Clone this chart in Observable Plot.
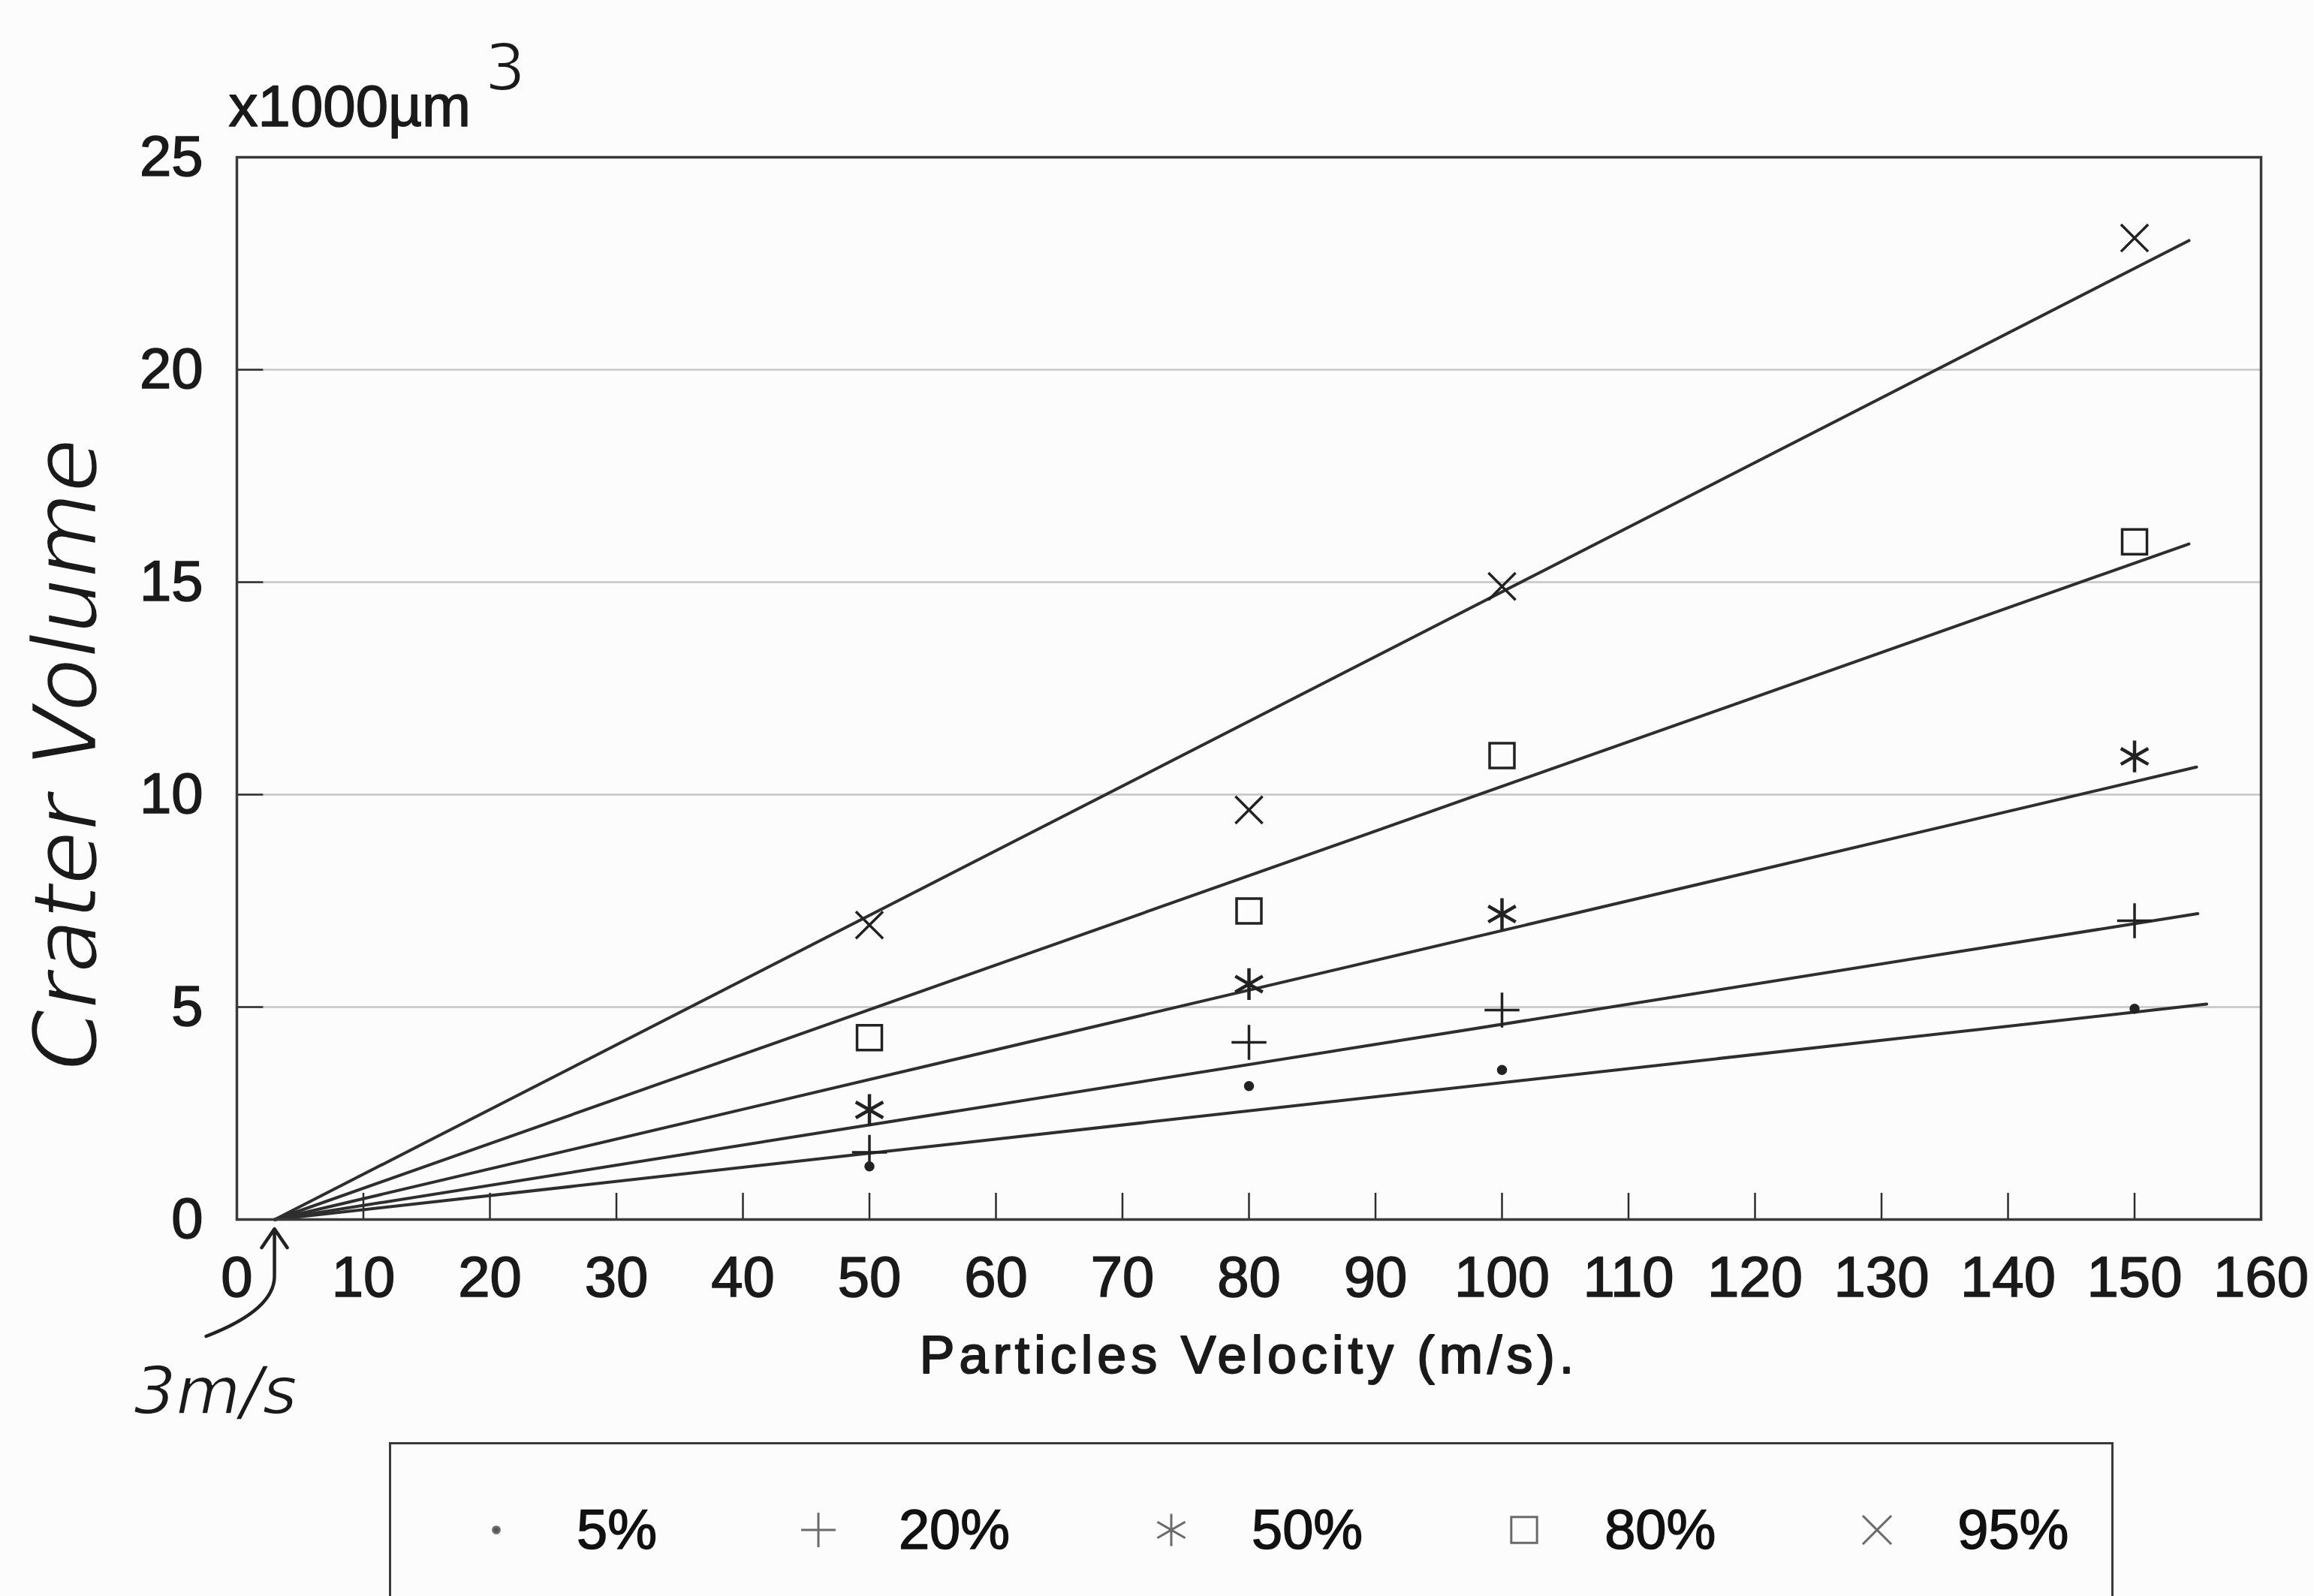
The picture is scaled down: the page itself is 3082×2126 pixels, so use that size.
<!DOCTYPE html>
<html>
<head>
<meta charset="utf-8">
<script src="https://cdn.jsdelivr.net/npm/d3@7"></script>
<script src="https://cdn.jsdelivr.net/npm/@observablehq/plot@0.6"></script>
<style>
  html, body { margin: 0; padding: 0; background: #fcfcfc; }
  #page { position: relative; width: 3082px; height: 2126px; overflow: hidden; background: #fcfcfc; }
  #chart { position: absolute; left: 0; top: 0; }
  #chart g[aria-label="x-axis tick label"] text,
  #chart g[aria-label="y-axis tick label"] text { stroke: #1a1a1a; stroke-width: 1.6px; paint-order: normal; }
  #legend { position: absolute; left: 518px; top: 1921px; width: 2297px; height: 300px;
            border: 3px solid #3a3a3a; box-sizing: border-box; }
  #legend .row { position: absolute; left: 0; top: 114px; transform: translateY(-50%);
                 display: flex; align-items: center; padding-left: 115px; }
  #legend .item { display: flex; align-items: center; margin-right: 190px; }
  #legend svg { width: 50px; height: 50px; overflow: visible; }
  #legend .lab { margin-left: 82px; font-family: "Liberation Sans", Arial, sans-serif;
                 font-size: 74px; color: #111; line-height: 1; -webkit-text-stroke: 1.5px #111; }
</style>
</head>
<body>
<div id="page">
  <div id="chart"></div>
  <div id="legend"><div class="row"></div></div>
</div>
<script>
// ---------------- data ----------------
const velocities = [50, 80, 100, 150];                 // m/s
const seriesNames = ["5%", "20%", "50%", "80%", "95%"];
const volume5  = [1.25, 3.14, 3.52, 4.96];              // x1000 µm³
const volume20 = [1.58, 4.17, 4.93, 7.03];
const volume50 = [2.58, 5.54, 7.19, 10.9];
const volume80 = [4.28, 7.26, 10.92, 15.95];
const volume95 = [6.93, 9.64, 14.9, 23.1];
// fitted straight lines: start at threshold velocity (3 m/s, volume 0)
const thresholdVelocity = 3;
const fitEndVelocity = [155.7, 155.0, 154.9, 154.3, 154.3];
const fitEndVolume   = [5.07, 7.2, 10.65, 15.9, 23.04];
// axes
const xTickValues = [0, 10, 20, 30, 40, 50, 60, 70, 80, 90, 100, 110, 120, 130, 140, 150, 160];
const yTickValues = [0, 5, 10, 15, 20, 25];
const xLabel = "Particles Velocity (m/s).";
const yLabel = "Crater Volume";
const unitLabel = "x1000µm";
const unitExponent = "3";
const thresholdNote = "3m/s";

// ---------------- styles ----------------
const volumes = [volume5, volume20, volume50, volume80, volume95];
const plotSymbols = ["circle", "plus", "asterisk", "square2", "times"];
const plotSymbolR = [5, 15, 20, 21, 16.5];
const legendSymbols = [d3.symbolCircle, d3.symbolPlus, d3.symbolAsterisk, d3.symbolSquare2, d3.symbolTimes];
const legendSizes = [60, 690, 1300, 1500, 950];
const ink = "#1a1a1a";
const lineInk = "#2e2e2e";
const paper = "#fcfcfc";
const printFont = "'Liberation Sans', Arial, sans-serif";
const handFont = "'DejaVu Sans', sans-serif";

const points = seriesNames.flatMap((s, i) =>
  velocities.map((v, j) => ({series: s, velocity: v, volume: volumes[i][j]})));
const fits = seriesNames.flatMap((s, i) => [
  {series: s, velocity: thresholdVelocity, volume: 0},
  {series: s, velocity: fitEndVelocity[i], volume: fitEndVolume[i]}
]);
const gridValues = yTickValues.filter(v => v > 0 && v < 25);
const innerXTicks = xTickValues.filter(v => v > 0 && v < 160);

function arrowMark(index, scales) {
  const sx = scales.x || (scales.scales && scales.scales.x);
  const sy = scales.y || (scales.scales && scales.scales.y);
  const px = sx(thresholdVelocity), py = sy(0);
  const ns = "http://www.w3.org/2000/svg";
  const path = document.createElementNS(ns, "path");
  const tip = py + 13;
  path.setAttribute("d",
    `M${px - 91},${py + 156} Q${px},${py + 121} ${px},${py + 76} L${px},${tip} ` +
    `M${px - 17},${tip + 25} L${px},${tip} L${px + 17},${tip + 25}`);
  path.setAttribute("fill", "none");
  path.setAttribute("stroke", "#222");
  path.setAttribute("stroke-width", "4.5");
  path.setAttribute("stroke-linecap", "round");
  path.setAttribute("stroke-linejoin", "round");
  return path;
}

const chart = Plot.plot({
  width: 3082,
  height: 1890,
  marginTop: 209,
  marginLeft: 315,
  marginRight: 71,
  marginBottom: 266,
  x: {domain: [0, 160]},
  y: {domain: [0, 25]},
  style: {background: "transparent", fontFamily: printFont, color: ink, overflow: "visible"},
  marks: [
    Plot.gridY(gridValues, {stroke: "#c6c6c6", strokeOpacity: 1, strokeWidth: 2.5}),
    Plot.ruleX(innerXTicks, {x: d => d, y1: 0, y2: 0.62, stroke: lineInk, strokeWidth: 2.5}),
    Plot.ruleY(gridValues, {y: d => d, x1: 0, x2: 2.1, stroke: lineInk, strokeWidth: 2.5}),
    Plot.line(fits, {x: "velocity", y: "volume", z: "series", stroke: lineInk, strokeWidth: 4}),
    ...seriesNames.map((s, i) => Plot.dot(points.filter(d => d.series === s), {
      x: "velocity", y: "volume",
      symbol: plotSymbols[i], r: plotSymbolR[i],
      stroke: "#222", strokeWidth: i === 2 ? 4.5 : 3.5,
      fill: i === 0 ? "#222" : "none"
    })),
    Plot.frame({stroke: "#3a3a3a", strokeWidth: 3.5}),
    Plot.axisX(xTickValues, {tickSize: 0, tickPadding: 49, fontSize: 76, label: null, fill: ink,
      tickFormat: d => String(d)}),
    Plot.axisY(yTickValues, {tickSize: 0, tickPadding: 45, fontSize: 76, label: null, fill: ink,
      tickFormat: d => String(d)}),
    Plot.text([xLabel], {text: d => d, frameAnchor: "bottom", dy: 204, lineAnchor: "bottom",
      fontSize: 70, fill: ink, fontFamily: printFont, stroke: ink, strokeWidth: 2, paintOrder: "normal"}),
    Plot.text([unitLabel], {text: d => d, frameAnchor: "top-left", dx: -11, dy: -42,
      lineAnchor: "bottom", textAnchor: "start", fontSize: 78, fill: ink, fontFamily: printFont,
      stroke: ink, strokeWidth: 1.5, paintOrder: "normal"}),
    Plot.text([unitExponent], {text: d => d, frameAnchor: "top-left", dx: 330, dy: -90,
      lineAnchor: "bottom", textAnchor: "start", fontSize: 86, fill: ink, fontFamily: handFont,
      stroke: paper, strokeWidth: 2, paintOrder: "normal"}),
    Plot.text([yLabel], {text: d => d, frameAnchor: "left", dx: -188, dy: 88, rotate: -90,
      lineAnchor: "bottom", textAnchor: "middle", fontSize: 117, fill: ink, fontFamily: handFont,
      fontStyle: "italic", stroke: paper, strokeWidth: 2.5, paintOrder: "normal"}),
    Plot.text([thresholdNote], {text: d => d, x: thresholdVelocity, y: 0, dx: -79, dy: 258,
      lineAnchor: "bottom", textAnchor: "middle", fontSize: 88, fill: ink, fontFamily: handFont,
      fontStyle: "italic", stroke: paper, strokeWidth: 1.5, paintOrder: "normal"}),
    arrowMark
  ]
});

// widen the printed axis label like the original plotter lettering
chart.querySelectorAll("text").forEach(t => {
  if (t.textContent === xLabel) t.setAttribute("letter-spacing", "6");
});
document.getElementById("chart").appendChild(chart);

// ---------------- legend ----------------
const row = document.querySelector("#legend .row");
seriesNames.forEach((s, i) => {
  const item = document.createElement("div");
  item.className = "item";
  const svg = d3.create("svg").attr("viewBox", "-25 -25 50 50");
  const filled = i === 0;
  svg.append("path")
    .attr("d", d3.symbol(legendSymbols[i], legendSizes[i])())
    .attr("fill", filled ? "#555" : "none")
    .attr("stroke", "#6a6a6a")
    .attr("stroke-width", 3);
  item.appendChild(svg.node());
  const lab = document.createElement("span");
  lab.className = "lab";
  lab.textContent = s;
  item.appendChild(lab);
  row.appendChild(item);
});
</script>
</body>
</html>
